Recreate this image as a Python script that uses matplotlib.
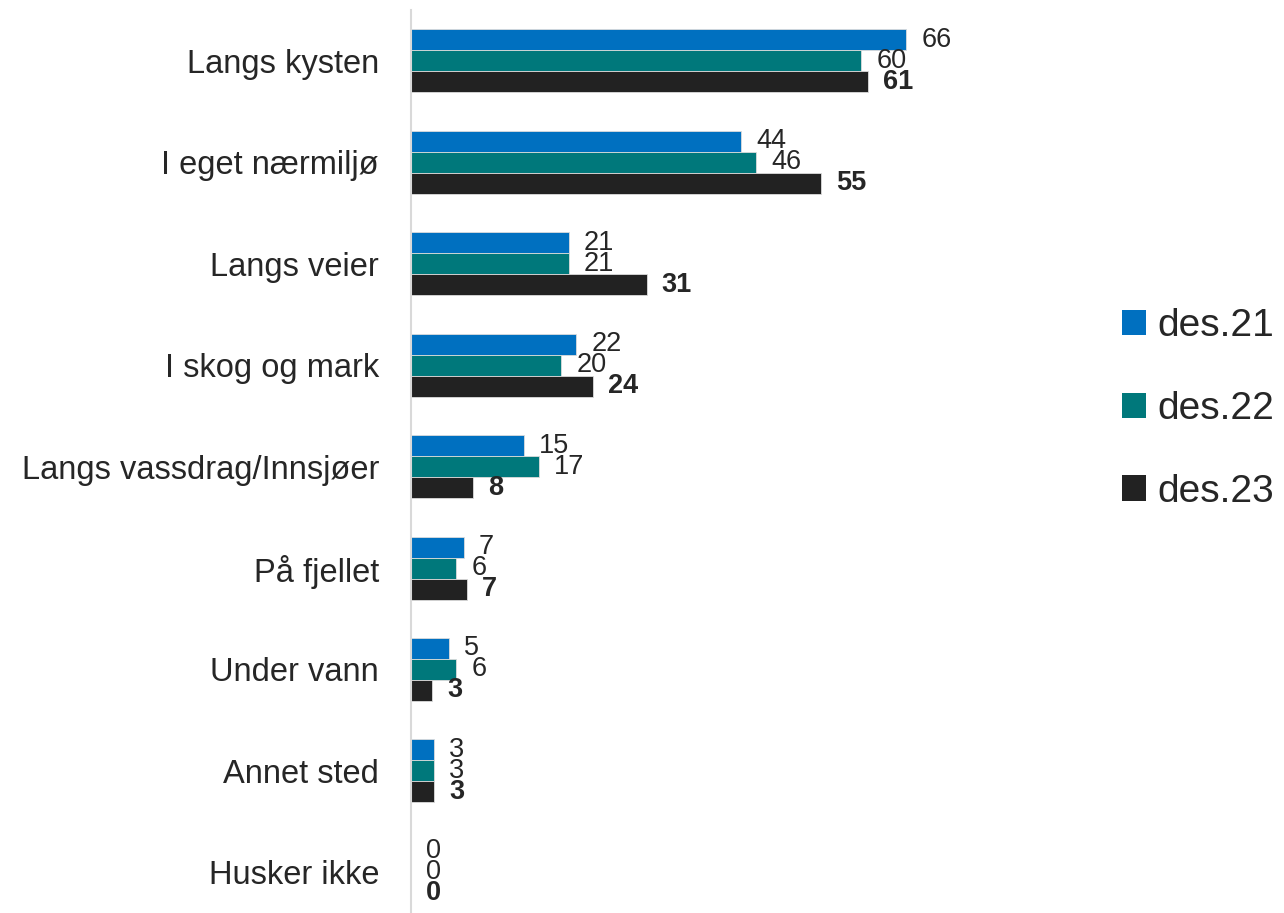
import matplotlib.pyplot as plt
from matplotlib.patches import Patch

plt.rcParams['font.family'] = ['Liberation Sans', 'DejaVu Sans']

CATEGORIES = ["Langs kysten", "I eget nærmiljø", "Langs veier", "I skog og mark",
              "Langs vassdrag/Innsjøer", "På fjellet", "Under vann", "Annet sted",
              "Husker ikke"]
SERIES = ["des.21", "des.22", "des.23"]
DES21 = [66, 44, 21, 22, 15, 7, 5, 3, 0]
DES22 = [60, 46, 21, 20, 17, 6, 6, 3, 0]
DES23 = [60.9, 54.7, 31.4, 24.2, 8.3, 7.4, 2.8, 3.1, 0]
COLORS = ["#0070C0", "#00787B", "#222222"]

W, H = 1284, 913
fig = plt.figure(figsize=(W / 100, H / 100), dpi=100)
# axes placed in pixel terms: left at x=411, 7.5 px per unit
ax = fig.add_axes([411 / W, 0, 600 / W, 903 / H])

bar_h = 0.207
offsets = [-bar_h, 0, bar_h]
text_col = "#262626"

for k, vals in enumerate([DES21, DES22, DES23]):
    ys = [i + offsets[k] for i in range(len(CATEGORIES))]
    ax.barh(ys, vals, height=bar_h, color=COLORS[k], edgecolor="#dcdcdc",
            linewidth=0.6, label=SERIES[k])
    for y, v in zip(ys, vals):
        ax.annotate(f"{v:.0f}", (v, y), xytext=(11, 0), textcoords="offset points",
                    va="center", ha="left", fontsize=19.5, color=text_col,
                    fontweight="bold" if k == 2 else "normal")

ax.set_xlim(0, 80)
ax.set_ylim(8.4, -0.5)
ax.set_yticks(range(len(CATEGORIES)))
ax.set_yticklabels(CATEGORIES, fontsize=23.5, color=text_col)
ax.tick_params(axis="y", length=0, pad=23)
ax.set_xticks([])
for s in ["top", "right", "bottom"]:
    ax.spines[s].set_visible(False)
ax.spines["left"].set_color("#d9d9d9")
ax.spines["left"].set_linewidth(1.5)

handles = [Patch(facecolor=c, edgecolor="none") for c in COLORS]
fig.legend(handles, SERIES, loc="center left", bbox_to_anchor=(1122 / W, 1 - 409 / H),
           frameon=False, fontsize=28, handlelength=0.62, handleheight=0.62,
           handletextpad=0.3, labelspacing=1.2, borderpad=0, borderaxespad=0,
           labelcolor=text_col)

fig.savefig("out.png", dpi=100)
